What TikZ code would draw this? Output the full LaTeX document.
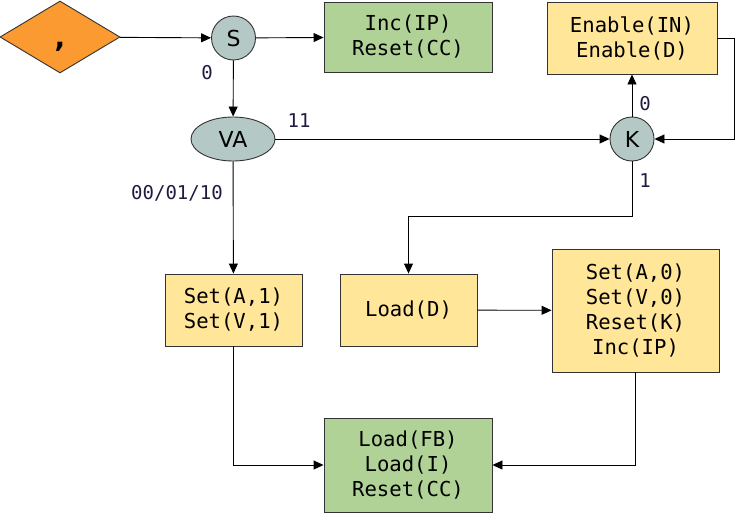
\documentclass[tikz,border=0pt]{standalone}
\usepackage{fontspec}
\setmainfont{DejaVu Sans}
\newfontfamily\monof{DejaVu Sans Mono}
\usetikzlibrary{shapes.geometric,arrows.meta}
\definecolor{orangef}{HTML}{FA9A30}
\definecolor{greyf}{HTML}{B4C9C5}
\definecolor{greenf}{HTML}{B0D297}
\definecolor{yellowf}{HTML}{FFE699}
\definecolor{edgec}{HTML}{333333}
\definecolor{labc}{HTML}{201A40}
\tikzset{
  box/.style={draw=edgec, line width=0.9pt, rectangle, inner sep=0pt, align=center,
    font=\monof\fontsize{20.6}{25}\selectfont},
  ybox/.style={box, fill=yellowf},
  gbox/.style={box, fill=greenf},
  circ/.style={draw=edgec, line width=0.9pt, fill=greyf, circle, minimum size=44pt, inner sep=0pt,
    font=\fontsize{22}{25}\selectfont},
  arr/.style={draw=black, line width=0.9pt, -{Triangle[length=10pt,width=9pt]}},
  lab/.style={text=labc, font=\monof\fontsize{19}{22}\selectfont, inner sep=0pt}
}
\begin{document}
\begin{tikzpicture}[x=1pt,y=-1pt]
\useasboundingbox (0,0) rectangle (735,514);
\node[diamond, draw=edgec, line width=0.9pt, fill=orangef, minimum width=120pt, minimum height=72pt, inner sep=0pt,
  font=\bfseries\fontsize{28}{30}\selectfont] (dia) at (60,37) {\raisebox{-10.5pt}[0pt][0pt]{,}};
\node[circ] (S) at (233.5,38) {S};
\node[gbox, minimum width=168pt, minimum height=70pt] (inc) at (408,37) {Inc(IP)\\Reset(CC)};
\node[ybox, minimum width=170pt, minimum height=72pt] (en) at (632,38) {Enable(IN)\\Enable(D)};
\node[ellipse, draw=edgec, line width=0.9pt, fill=greyf, minimum width=84pt, minimum height=44pt, inner sep=0pt,
  font=\fontsize{22}{25}\selectfont] (VA) at (233,139) {VA};
\node[circ] (K) at (632,139) {K};
\node[ybox, minimum width=137pt, minimum height=72pt] (seta1) at (233.5,310) {Set(A,1)\\Set(V,1)};
\node[ybox, minimum width=137pt, minimum height=72pt] (loadd) at (408.5,310) {Load(D)};
\node[ybox, minimum width=167pt, minimum height=123pt] (seta0) at (635.5,310.5) {Set(A,0)\\Set(V,0)\\Reset(K)\\Inc(IP)};
\node[gbox, minimum width=168pt, minimum height=94pt] (loadfb) at (408,465) {Load(FB)\\Load(I)\\Reset(CC)};
\coordinate (er) at (734,38);
\coordinate (kb) at (632,216);
\draw[arr] (dia) -- (S);
\draw[arr] (S) -- (inc);
\draw[arr] (S) -- (VA);
\draw[arr] (VA) -- (K);
\draw[arr] (K) -- (en);
\draw[arr] (en.east) -- (er) |- (K);
\draw[arr] (K) -- (kb) -| (loadd);
\draw[arr] (VA) -- (seta1);
\draw[arr] (loadd) -- (seta0);
\draw[arr] (seta1) |- (loadfb);
\draw[arr] (seta0) |- (loadfb);
\node[lab] (l0) at (207,73) {0};
\node[lab] (l11) at (299,121) {11};
\node[lab] (lk0) at (645,104) {0};
\node[lab] (lk1) at (645,181) {1};
\node[lab] (l3) at (177,193) {00/01/10};
\end{tikzpicture}
\end{document}
